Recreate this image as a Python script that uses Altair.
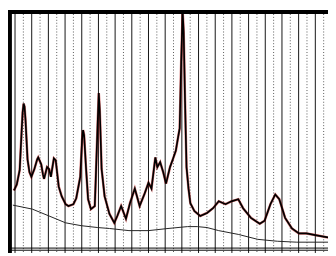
import altair as alt
import pandas as pd

# spectrum
spec_x = [-0.7, -0.1, 1.05, 2.8, 4.0, 4.56, 5.15, 5.7, 6.3, 7.5, 8.65, 9.8, 11.6, 13.3, 13.9, 15.7, 16.8, 17.4,
          19.2, 20.4, 21.5, 22.7, 23.3, 24.4, 26.2, 28.0, 30.3, 32.0, 35.0, 36.7, 39.1, 40.2, 40.8, 41.4, 42.6,
          43.8, 45.5, 47.8, 48.4, 49.6, 50.2, 50.8, 51.9, 53.7, 56.6, 59.5, 61.3, 63.6, 66.5, 68.9, 71.8, 74.7,
          77.7, 80.0, 81.8, 84.1, 85.3, 87.0, 88.8, 90.5, 92.9, 94.6, 96.4, 97.5, 98.7, 99.6, 100.5, 101.1,
          101.9, 102.8, 104.0, 105.1, 107.5, 111.0, 115.1, 118.7, 122.1, 126.2, 129.7, 133.8, 136.7, 141.4,
          146.7, 149.6, 153.1, 156.0, 158.4, 161.9, 166.0, 170.2, 174.8, 180.7, 187.6]
spec_y = [24.4, 25.2, 26.9, 33.1, 50.0, 57.4, 61.2, 59.9, 54.1, 37.6, 32.2, 30.2, 33.5, 37.6, 38.4, 35.5, 31.0, 29.3,
          34.3, 33.5, 30.2, 35.5, 38.0, 37.2, 26.0, 21.9, 18.6, 17.8, 18.6, 21.1, 30.2, 45.9, 50.0, 47.9, 33.5,
          20.7, 16.5, 17.8, 29.3, 54.1, 65.7, 58.3, 33.5, 21.9, 14.5, 10.7, 13.6, 17.8, 12.4, 19.0, 25.2, 17.8,
          23.1, 27.7, 25.2, 38.4, 34.3, 36.4, 32.2, 27.3, 34.3, 37.6, 41.3, 45.9, 50.8, 78.9, 100.0, 91.3,
          62.4, 34.3, 25.2, 19.0, 15.7, 13.6, 14.9, 16.9, 19.8, 18.6, 19.8, 20.7, 16.9, 12.8,
          10.3, 11.6, 18.6, 22.7, 20.7, 12.8, 8.3, 6.2, 6.2, 5.4, 4.5]

# baseline
base_x = [-1.3, 10.4, 20.4, 30.3, 39.6, 49.6, 56.6, 68.3, 80.0, 91.7, 103.4, 109.2, 115.1, 122.1, 133.8,
          145.5, 157.2, 168.9, 187.6]
base_y = [18.2, 16.5, 13.6, 10.7, 9.5, 8.7, 8.3, 7.4, 7.4, 8.3, 9.1, 9.1, 8.7, 7.4, 5.8, 3.7, 2.9, 2.5, 2.5]

major = list(range(0, 190, 10))
minor = list(range(5, 190, 10))

xs = alt.Scale(domain=[-4.21, 187.6], nice=False, zero=False)
ys = alt.Scale(domain=[-2.07, 100.41], nice=False, zero=False)

spec = pd.DataFrame({"x": spec_x, "y": spec_y, "i": range(len(spec_x))})
base = pd.DataFrame({"x": base_x, "y": base_y, "i": range(len(base_x))})

minor_l = alt.Chart(pd.DataFrame({"x": minor})).mark_rule(
    color="#555", strokeWidth=1, strokeDash=[1, 2]).encode(x=alt.X("x:Q", scale=xs, axis=None))
major_l = alt.Chart(pd.DataFrame({"x": major})).mark_rule(
    color="#111", strokeWidth=1).encode(x=alt.X("x:Q", scale=xs, axis=None))

red = alt.Chart(spec).mark_line(color="#b00000", strokeWidth=2.6, opacity=0.55, clip=True).encode(
    x=alt.X("x:Q", scale=xs, axis=None), y=alt.Y("y:Q", scale=ys, axis=None), order="i:Q")
black = alt.Chart(spec).mark_line(color="black", strokeWidth=1.7, clip=True).encode(
    x=alt.X("x:Q", scale=xs, axis=None), y=alt.Y("y:Q", scale=ys, axis=None), order="i:Q")
bl = alt.Chart(base).mark_line(color="#222", strokeWidth=1, clip=True).encode(
    x=alt.X("x:Q", scale=xs, axis=None), y=alt.Y("y:Q", scale=ys, axis=None), order="i:Q")

bottom = alt.Chart(pd.DataFrame({"y": [0.0, -0.9]})).mark_rule(color="black", strokeWidth=1).encode(
    y=alt.Y("y:Q", scale=ys, axis=None))

left_b = alt.Chart(pd.DataFrame({"a": [0]})).mark_rule(color="black", strokeWidth=4).encode(
    x=alt.value(2), y=alt.value(0), y2=alt.value(248))
top_b = alt.Chart(pd.DataFrame({"a": [0]})).mark_rule(color="black", strokeWidth=4).encode(
    y=alt.value(1), x=alt.value(0), x2=alt.value(328))

chart = alt.layer(minor_l, major_l, bl, red, black, bottom, left_b, top_b).properties(
    width=328, height=248, padding=0, autosize="none"
).configure_view(stroke=None)

chart.save("out.html", embed_options={"renderer": "svg", "actions": False})
